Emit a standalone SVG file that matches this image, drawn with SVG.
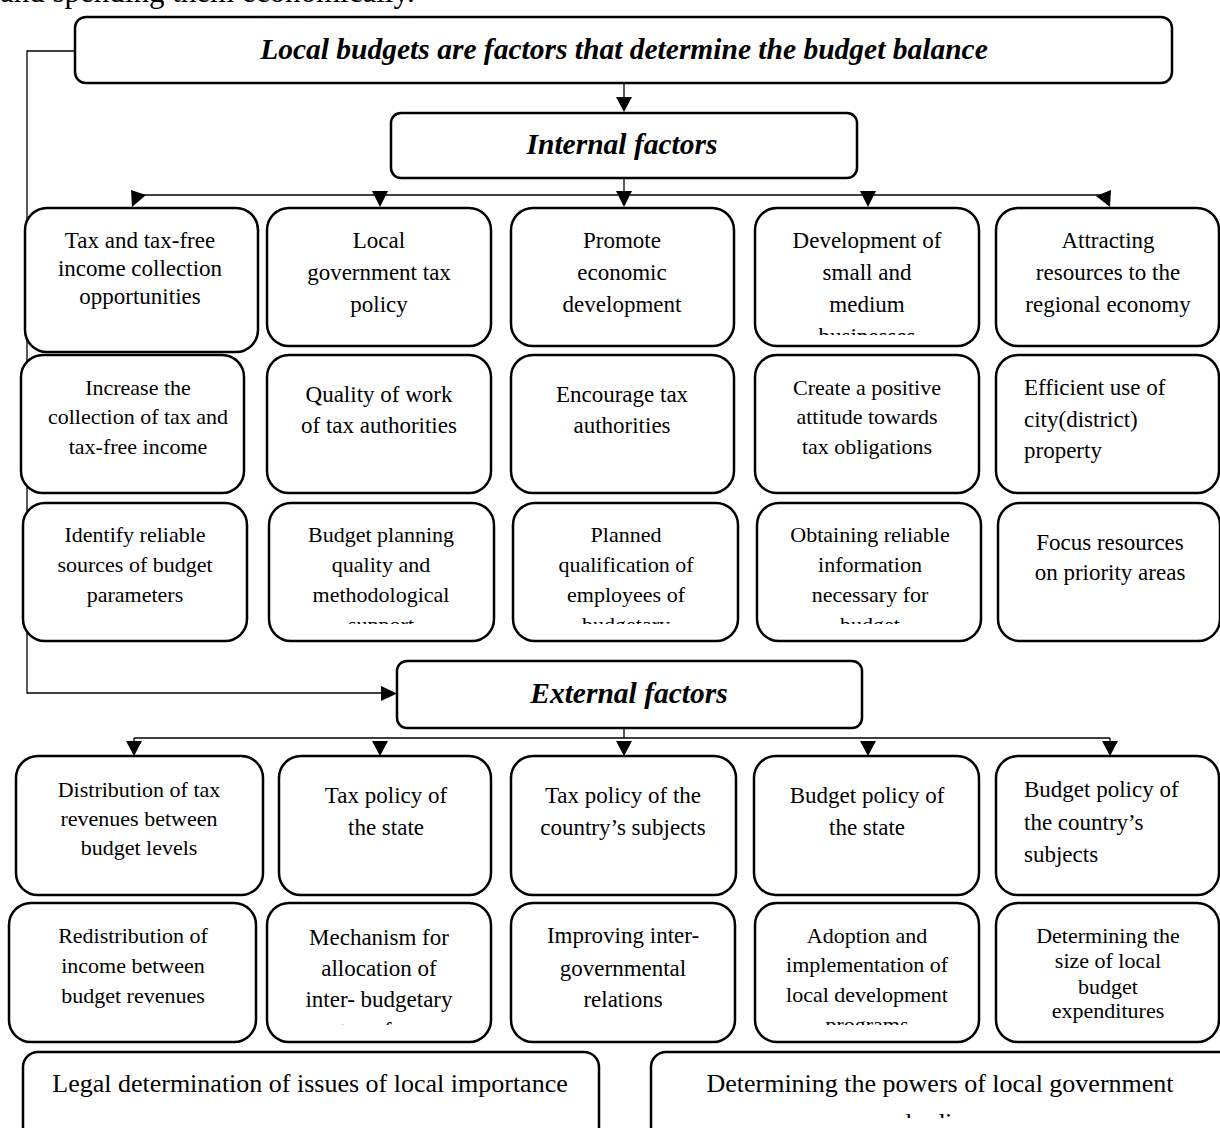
<svg xmlns="http://www.w3.org/2000/svg" width="1220" height="1128" viewBox="0 0 1220 1128">
<style>
  text { font-family: "Liberation Serif", "Times New Roman", serif; fill: #000; }
  .t { font-size: 22px; text-anchor: middle; }
  .t23 { font-size: 23px; text-anchor: middle; }
  .tl { font-size: 23px; text-anchor: start; }
  .big { font-size: 26px; text-anchor: middle; }
  .head { font-size: 29.5px; font-weight: bold; font-style: italic; text-anchor: middle; }
  .box { fill: #fff; stroke: #000; stroke-width: 2.5; }
  .conn { fill: none; stroke: #000; stroke-width: 1.3; }
  .ah { fill: #000; stroke: none; }
</style>
<defs>
  <clipPath id="c-r1b4"><rect x="755" y="208" width="224" height="127"/></clipPath>
  <clipPath id="c-r3"><rect x="260" y="503" width="730" height="121"/></clipPath>
  <clipPath id="c-e2"><rect x="260" y="903" width="730" height="122"/></clipPath>
  <clipPath id="c-bot"><rect x="651" y="1052" width="570" height="66"/></clipPath>
</defs>
<rect width="1220" height="1128" fill="#fff"/>
<text x="0" y="2" style="font-size:31px">and spending them economically.</text>

<g id="connectors">
  <line class="conn" x1="624" y1="83" x2="624" y2="98"/>
  <polygon class="ah" points="616,97 632,97 624,112"/>
  <line class="conn" x1="624" y1="178" x2="624" y2="195"/>
  <line class="conn" x1="136" y1="195" x2="1110" y2="195"/>
  <polygon class="ah" points="131,190 146,195 132,207"/>
  <polygon class="ah" points="372,191 388,191 380,207"/>
  <polygon class="ah" points="616,191 632,191 624,207"/>
  <polygon class="ah" points="860,191 876,191 868,207"/>
  <polygon class="ah" points="1111,190 1096,196 1110,207"/>
  <polyline class="conn" points="75,51 27,51 27,693 383,693"/>
  <polygon class="ah" points="381,686 397,693.5 381,701"/>
  <line class="conn" x1="624" y1="728" x2="624" y2="738"/>
  <line class="conn" x1="134" y1="738" x2="1110" y2="738"/>
  <line class="conn" x1="134" y1="738" x2="134" y2="743"/>
  <line class="conn" x1="1110" y1="738" x2="1110" y2="743"/>
  <polygon class="ah" points="126,741 142,741 134,756"/>
  <polygon class="ah" points="372,741 388,741 380,756"/>
  <polygon class="ah" points="616,741 632,741 624,756"/>
  <polygon class="ah" points="860,741 876,741 868,756"/>
  <polygon class="ah" points="1102,741 1118,741 1110,756"/>
</g>

<g id="root">
  <rect class="box" x="75" y="17" width="1097" height="66" rx="11"/>
  <text class="head" x="624" y="59">Local budgets are factors that determine the budget balance</text>
</g>
<g id="internal">
  <rect class="box" x="391" y="113" width="466" height="65" rx="10"/>
  <text class="head" x="622" y="154">Internal factors</text>
</g>

<g id="i-r1-1">
  <rect class="box" x="25" y="208" width="233" height="144" rx="22"/>
  <text class="t23" x="140" y="248">Tax and tax-free</text>
  <text class="t23" x="140" y="276">income collection</text>
  <text class="t23" x="140" y="304">opportunities</text>
</g>
<g id="i-r1-2">
  <rect class="box" x="267" y="208" width="224" height="138" rx="22"/>
  <text class="t23" x="379" y="248">Local</text>
  <text class="t23" x="379" y="280">government tax</text>
  <text class="t23" x="379" y="312">policy</text>
</g>
<g id="i-r1-3">
  <rect class="box" x="511" y="208" width="223" height="138" rx="22"/>
  <text class="t23" x="622" y="248">Promote</text>
  <text class="t23" x="622" y="280">economic</text>
  <text class="t23" x="622" y="312">development</text>
</g>
<g id="i-r1-4">
  <rect class="box" x="755" y="208" width="224" height="138" rx="22"/>
  <text class="t23" x="867" y="248">Development of</text>
  <text class="t23" x="867" y="280">small and</text>
  <text class="t23" x="867" y="312">medium</text>
  <text class="t23" x="867" y="344" clip-path="url(#c-r1b4)">businesses</text>
</g>
<g id="i-r1-5">
  <rect class="box" x="996" y="208" width="223" height="138" rx="22"/>
  <text class="t23" x="1108" y="248">Attracting</text>
  <text class="t23" x="1108" y="280">resources to the</text>
  <text class="t23" x="1108" y="312">regional economy</text>
</g>

<g id="i-r2-1">
  <rect class="box" x="21" y="355" width="223" height="138" rx="22"/>
  <text class="t" x="138" y="395">Increase the</text>
  <text class="t" x="138" y="424">collection of tax and</text>
  <text class="t" x="138" y="454">tax-free income</text>
</g>
<g id="i-r2-2">
  <rect class="box" x="267" y="355" width="224" height="138" rx="22"/>
  <text class="t23" x="379" y="402">Quality of work</text>
  <text class="t23" x="379" y="433">of tax authorities</text>
</g>
<g id="i-r2-3">
  <rect class="box" x="511" y="355" width="223" height="138" rx="22"/>
  <text class="t23" x="622" y="402">Encourage tax</text>
  <text class="t23" x="622" y="433">authorities</text>
</g>
<g id="i-r2-4">
  <rect class="box" x="755" y="355" width="224" height="138" rx="22"/>
  <text class="t" x="867" y="395">Create a positive</text>
  <text class="t" x="867" y="424">attitude towards</text>
  <text class="t" x="867" y="454">tax obligations</text>
</g>
<g id="i-r2-5">
  <rect class="box" x="996" y="355" width="223" height="138" rx="22"/>
  <text class="tl" x="1024" y="395">Efficient use of</text>
  <text class="tl" x="1024" y="427">city(district)</text>
  <text class="tl" x="1024" y="458">property</text>
</g>

<g id="i-r3-1">
  <rect class="box" x="23" y="503" width="224" height="138" rx="22"/>
  <text class="t" x="135" y="542">Identify reliable</text>
  <text class="t" x="135" y="572">sources of budget</text>
  <text class="t" x="135" y="602">parameters</text>
</g>
<g id="i-r3-2">
  <rect class="box" x="269" y="503" width="225" height="138" rx="22"/>
  <text class="t" x="381" y="542">Budget planning</text>
  <text class="t" x="381" y="572">quality and</text>
  <text class="t" x="381" y="602">methodological</text>
  <text class="t" x="381" y="632" clip-path="url(#c-r3)">support</text>
</g>
<g id="i-r3-3">
  <rect class="box" x="513" y="503" width="225" height="138" rx="22"/>
  <text class="t" x="626" y="542">Planned</text>
  <text class="t" x="626" y="572">qualification of</text>
  <text class="t" x="626" y="602">employees of</text>
  <text class="t" x="626" y="632" clip-path="url(#c-r3)">budgetary</text>
</g>
<g id="i-r3-4">
  <rect class="box" x="757" y="503" width="224" height="138" rx="22"/>
  <text class="t" x="870" y="542">Obtaining reliable</text>
  <text class="t" x="870" y="572">information</text>
  <text class="t" x="870" y="602">necessary for</text>
  <text class="t" x="870" y="632" clip-path="url(#c-r3)">budget</text>
</g>
<g id="i-r3-5">
  <rect class="box" x="998" y="503" width="222" height="138" rx="22"/>
  <text class="t23" x="1110" y="550">Focus resources</text>
  <text class="t23" x="1110" y="580">on priority areas</text>
</g>

<g id="external">
  <rect class="box" x="397" y="661" width="465" height="67" rx="10"/>
  <text class="head" x="629" y="703">External factors</text>
</g>

<g id="e-r1-1">
  <rect class="box" x="16" y="756" width="247" height="139" rx="22"/>
  <text class="t" x="139" y="797">Distribution of tax</text>
  <text class="t" x="139" y="826">revenues between</text>
  <text class="t" x="139" y="855">budget levels</text>
</g>
<g id="e-r1-2">
  <rect class="box" x="279" y="756" width="212" height="139" rx="22"/>
  <text class="t23" x="386" y="803">Tax policy of</text>
  <text class="t23" x="386" y="835">the state</text>
</g>
<g id="e-r1-3">
  <rect class="box" x="511" y="756" width="225" height="139" rx="22"/>
  <text class="t23" x="623" y="803">Tax policy of the</text>
  <text class="t23" x="623" y="835">country’s subjects</text>
</g>
<g id="e-r1-4">
  <rect class="box" x="754" y="756" width="225" height="139" rx="22"/>
  <text class="t23" x="867" y="803">Budget policy of</text>
  <text class="t23" x="867" y="835">the state</text>
</g>
<g id="e-r1-5">
  <rect class="box" x="996" y="756" width="223" height="139" rx="22"/>
  <text class="tl" x="1024" y="797">Budget policy of</text>
  <text class="tl" x="1024" y="830">the country’s</text>
  <text class="tl" x="1024" y="862">subjects</text>
</g>

<g id="e-r2-1">
  <rect class="box" x="9" y="903" width="247" height="139" rx="22"/>
  <text class="t" x="133" y="943">Redistribution of</text>
  <text class="t" x="133" y="973">income between</text>
  <text class="t" x="133" y="1003">budget revenues</text>
</g>
<g id="e-r2-2">
  <rect class="box" x="267" y="903" width="224" height="139" rx="22"/>
  <text class="t23" x="379" y="945">Mechanism for</text>
  <text class="t23" x="379" y="976">allocation of</text>
  <text class="t23" x="379" y="1007">inter- budgetary</text>
  <text class="t23" x="379" y="1038" clip-path="url(#c-e2)">transfers</text>
</g>
<g id="e-r2-3">
  <rect class="box" x="511" y="903" width="224" height="139" rx="22"/>
  <text class="t23" x="623" y="943">Improving inter-</text>
  <text class="t23" x="623" y="976">governmental</text>
  <text class="t23" x="623" y="1007">relations</text>
</g>
<g id="e-r2-4">
  <rect class="box" x="755" y="903" width="224" height="139" rx="22"/>
  <text class="t" x="867" y="943">Adoption and</text>
  <text class="t" x="867" y="972">implementation of</text>
  <text class="t" x="867" y="1002">local development</text>
  <text class="t" x="867" y="1032" clip-path="url(#c-e2)">programs</text>
</g>
<g id="e-r2-5">
  <rect class="box" x="996" y="903" width="223" height="139" rx="22"/>
  <text class="t" x="1108" y="943">Determining the</text>
  <text class="t" x="1108" y="968">size of local</text>
  <text class="t" x="1108" y="994">budget</text>
  <text class="t" x="1108" y="1018">expenditures</text>
</g>

<g id="b-1">
  <rect class="box" x="23" y="1052" width="576" height="100" rx="15"/>
  <text class="big" x="310" y="1092">Legal determination of issues of local importance</text>
</g>
<g id="b-2">
  <rect class="box" x="651" y="1052" width="590" height="100" rx="15"/>
  <text class="big" x="940" y="1092">Determining the powers of local government</text>
  <text class="big" x="940" y="1131" clip-path="url(#c-bot)">bodies</text>
</g>
</svg>
